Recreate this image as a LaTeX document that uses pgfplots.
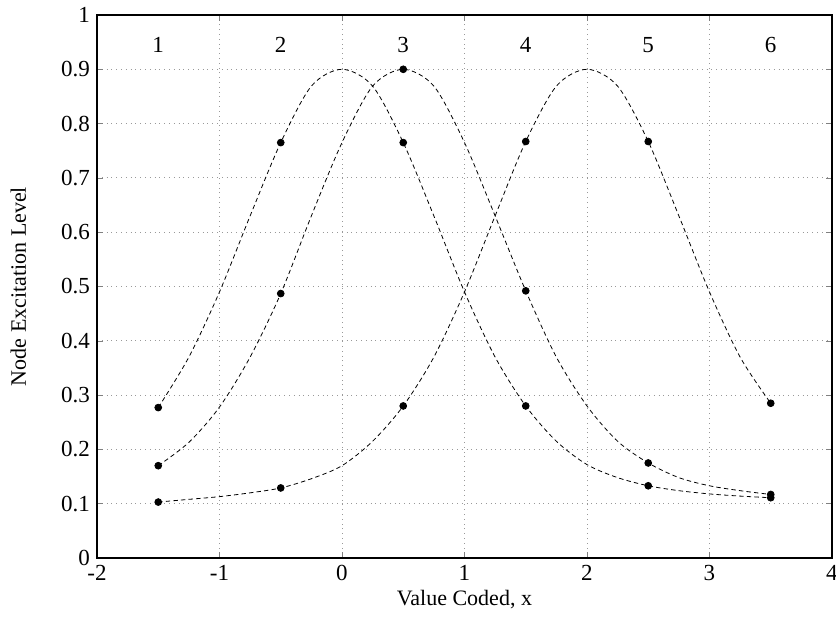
\documentclass[border=0pt]{standalone}
\usepackage{fontspec}
\setmainfont{Liberation Serif}
\usepackage{pgfplots}
\pgfplotsset{compat=1.18}

\begin{document}
\begin{tikzpicture}
\begin{axis}[
  at={(0,0)}, anchor=south west,
  scale only axis,
  width=367.5pt, height=271.5pt,
  xmin=-2, xmax=4, ymin=0, ymax=1,
  xtick={-2,-1,0,1,2,3,4},
  ytick={0,0.1,0.2,0.3,0.4,0.5,0.6,0.7,0.8,0.9,1},
  yticklabels={0,0.1,0.2,0.3,0.4,0.5,0.6,0.7,0.8,0.9,1},
  /pgf/number format/assume math mode=true,
  tick label style={font=\fontsize{11.5}{13}\selectfont},
  label style={font=\fontsize{11}{13}\selectfont},
  tick align=inside,
  major tick length=3pt,
  grid=major,
  grid style={dotted, gray!80, line width=0.4pt},
  axis line style={line width=0.6pt},
  xlabel={Value Coded, x},
  ylabel={Node Excitation Level},
  xlabel style={at={(axis description cs:0.5,-0.077)}, anchor=center},
  ylabel style={at={(axis description cs:-0.107,0.5)}, anchor=center},
  clip=false,
]
% dashed curves
\addplot[black, line width=0.4pt, dash pattern=on 2.2pt off 1.6pt, smooth] coordinates {
  (-1.5,0.277) (-1.25,0.37) (-1.0,0.49) (-0.75,0.63) (-0.5,0.765) (-0.25,0.869)
  (0,0.9) (0.25,0.869) (0.5,0.765) (0.75,0.63) (1.0,0.49) (1.25,0.37)
  (1.5,0.28) (1.75,0.215) (2.0,0.172) (2.25,0.148) (2.5,0.133) (2.75,0.124)
  (3.0,0.118) (3.25,0.114) (3.5,0.111)
};
\addplot[black, line width=0.4pt, dash pattern=on 2.2pt off 1.6pt, smooth] coordinates {
  (-1.5,0.170) (-1.25,0.213) (-1.0,0.278) (-0.75,0.37) (-0.5,0.487) (-0.25,0.63)
  (0,0.765) (0.25,0.869) (0.5,0.9) (0.75,0.869) (1.0,0.765) (1.25,0.63)
  (1.5,0.492) (1.75,0.37) (2.0,0.28) (2.25,0.215) (2.5,0.175) (2.75,0.148)
  (3.0,0.133) (3.25,0.124) (3.5,0.117)
};
\addplot[black, line width=0.4pt, dash pattern=on 2.2pt off 1.6pt, smooth] coordinates {
  (-1.5,0.103) (-1.25,0.108) (-1.0,0.113) (-0.75,0.12) (-0.5,0.129) (-0.25,0.146)
  (0,0.170) (0.25,0.215) (0.5,0.28) (0.75,0.37) (1.0,0.49) (1.25,0.63)
  (1.5,0.767) (1.75,0.869) (2.0,0.9) (2.25,0.869) (2.5,0.767) (2.75,0.63)
  (3.0,0.49) (3.25,0.37) (3.5,0.285)
};
% sampled points
\addplot[only marks, mark=*, mark size=1.7pt, black] coordinates {
  (-1.5,0.277) (-0.5,0.765) (0.5,0.765) (1.5,0.28) (2.5,0.133) (3.5,0.111)
};
\addplot[only marks, mark=*, mark size=1.7pt, black] coordinates {
  (-1.5,0.170) (-0.5,0.487) (0.5,0.9) (1.5,0.492) (2.5,0.175) (3.5,0.117)
};
\addplot[only marks, mark=*, mark size=1.7pt, black] coordinates {
  (-1.5,0.103) (-0.5,0.129) (0.5,0.28) (1.5,0.767) (2.5,0.767) (3.5,0.285)
};
% node numbers
\node[font=\fontsize{11.5}{13}\selectfont] at (axis cs:-1.5,0.945) {1};
\node[font=\fontsize{11.5}{13}\selectfont] at (axis cs:-0.5,0.945) {2};
\node[font=\fontsize{11.5}{13}\selectfont] at (axis cs:0.5,0.945) {3};
\node[font=\fontsize{11.5}{13}\selectfont] at (axis cs:1.5,0.945) {4};
\node[font=\fontsize{11.5}{13}\selectfont] at (axis cs:2.5,0.945) {5};
\node[font=\fontsize{11.5}{13}\selectfont] at (axis cs:3.5,0.945) {6};
\end{axis}
\pgfresetboundingbox
\path (-48.5pt,-36.5pt) rectangle (369.5pt,279pt);
\end{tikzpicture}
\end{document}
